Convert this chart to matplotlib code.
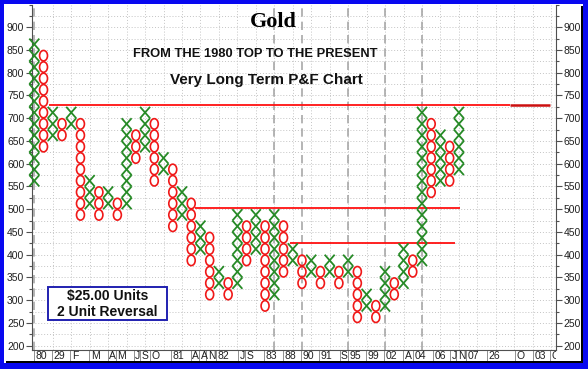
import matplotlib
matplotlib.use("Agg")
import matplotlib.pyplot as plt
from matplotlib.collections import LineCollection
from matplotlib.patches import Ellipse, Rectangle
from matplotlib.transforms import Bbox, TransformedBbox, blended_transform_factory
from matplotlib.ticker import MultipleLocator

# ---------------- data ----------------
BOX = 25
col_types = ['X', 'O'] * 23 + ['X']
col_lows = [550, 625, 650, 650, 675, 475, 500, 475, 500, 475,
            500, 600, 625, 550, 575, 450, 475, 375, 400, 300,
            325, 300, 325, 375, 400, 275, 300, 350, 375, 325,
            350, 325, 350, 325, 350, 250, 275, 250, 275, 300,
            325, 350, 375, 525, 550, 550, 575]
col_highs = [875, 850, 725, 700, 725, 700, 575, 550, 550, 525,
             700, 675, 725, 700, 625, 600, 550, 525, 475, 450,
             375, 350, 500, 475, 500, 475, 500, 475, 425, 400,
             400, 375, 400, 375, 400, 375, 325, 300, 375, 350,
             425, 400, 725, 700, 675, 650, 725]

x_labels = ["80", "29", "F", "M", "A", "M", "J", "S", "O", "81", "A", "A", "N", "82",
            "J", "S", "83", "88", "90", "91", "S", "95", "99", "02", "A", "04", "06",
            "J", "N", "07", "26", "O", "03", "O"]
x_label_pos = [0.81, 2.75, 4.41, 6.58, 8.47, 9.47, 11.2, 12.0, 13.1, 15.6, 17.5, 18.4,
               19.2, 20.5, 22.5, 23.35, 25.72, 27.7, 29.68, 31.68, 33.6, 34.74, 36.73,
               38.72, 40.52, 41.79, 43.95, 45.47, 46.3, 47.56, 49.88, 52.71, 54.84, 56.45]

year_lines = [0, 26, 29, 34, 38, 42]

# red trend lines: (level, start col, end col)
red_levels = [730, 502, 425]
red_starts = [1.6, 17.4, 27.65]
red_ends = [51.5, 46.1, 45.6]
dark_level = 730
dark_start, dark_end = 51.5, 55.9

# ---------------- figure ----------------
W, H = 588, 369
fig = plt.figure(figsize=(W / 100, H / 100), dpi=100)
fig.patch.set_facecolor('white')

def fx(x):
    return x / W

def fy(y):
    return 1 - y / H

ax = fig.add_axes([fx(32), fy(350), 524 / W, 345.5 / H])
ax.set_xlim(-0.25, 56.52)
ax.set_ylim(190.5, 950)
ax.set_facecolor('white')

# grid
grid_c = '#c4c4c4'
for v in range(200, 950, 25):
    ax.axhline(v, color=grid_c, lw=0.7, ls=(0, (1, 2)), zorder=0)
for c in range(2, 57, 2):
    ax.axvline(c, color=grid_c, lw=0.7, ls=(0, (1, 2)), zorder=0)
for c in year_lines:
    ax.axvline(c, color='#a8a8a8', lw=1.2, ls=(0, (5, 3)), zorder=0.5)

# red lines
for lev, s, e in zip(red_levels, red_starts, red_ends):
    ax.plot([s, e], [lev, lev], color='#ff1010', lw=1.3, zorder=1, solid_capstyle='butt')
ax.plot([dark_start, dark_end], [dark_level, dark_level], color='#cc1010', lw=1.8,
        zorder=1, solid_capstyle='butt')

# P&F columns
xw = 0.54
segs = []
for i, (t, lo, hi) in enumerate(zip(col_types, col_lows, col_highs)):
    b = lo
    while b < hi:
        if t == 'X':
            segs.append([(i - xw, b), (i + xw, b + BOX)])
            segs.append([(i - xw, b + BOX), (i + xw, b)])
        else:
            e = Ellipse((i, b + BOX / 2), width=0.86, height=23.0, fill=False,
                        edgecolor='#f01818', lw=1.2, zorder=3, clip_on=False)
            ax.add_patch(e)
        b += BOX
lc = LineCollection(segs, colors='#268a26', linewidths=1.3, zorder=3, clip_on=False)
ax.add_collection(lc)

# axes styling
ax.spines['top'].set_visible(False)
for s in ['left', 'right', 'bottom']:
    ax.spines[s].set_color('#505050')
    ax.spines[s].set_linewidth(0.8)
ax.yaxis.set_major_locator(MultipleLocator(50))
ax.yaxis.set_minor_locator(MultipleLocator(25))
ax.set_yticks(range(200, 901, 50))
ax.tick_params(axis='y', which='both', left=True, right=True, labelleft=True,
               labelright=True, direction='out', colors='#505050', labelcolor='#202020',
               labelsize=7.5, pad=1.5, width=0.8)
ax.tick_params(axis='y', which='major', length=4)
ax.tick_params(axis='y', which='minor', length=2)
ax.set_xticks([])
for lbl in ax.get_yticklabels():
    lbl.set_fontfamily('Liberation Sans')

# x label band
tr = blended_transform_factory(ax.transData, ax.transAxes)
clipbox = TransformedBbox(Bbox([[0, -0.2], [1, 0]]), ax.transAxes)
texts = []
for lab, p in zip(x_labels, x_label_pos):
    t = ax.text(p, -0.018, lab, transform=tr, ha='center', va='center', fontsize=7.5,
                family='Liberation Sans', color='#202020', clip_on=True)
    t.set_clip_box(clipbox)
    texts.append(t)

fig.canvas.draw()
r = fig.canvas.get_renderer()
inv = ax.transData.inverted()
for t in texts:
    bb = t.get_window_extent(r)
    xsep = inv.transform((bb.x0 - 1.5, 0))[0]
    if xsep < 56.5:
        ax.plot([xsep, xsep], [0, -0.036], transform=tr, color='#909090', lw=0.7,
                clip_on=False)

# titles
fig.text(fx(273), fy(22), 'Gold', ha='center', va='center', fontsize=16,
         family='Liberation Serif', fontweight='bold', color='black')
fig.text(fx(255), fy(54), 'FROM THE 1980 TOP TO THE PRESENT', ha='center', va='center',
         fontsize=9.3, family='Liberation Sans', fontweight='bold', color='#111111')
fig.text(fx(266), fy(80), 'Very Long Term P&F Chart', ha='center', va='center',
         fontsize=11, family='Liberation Sans', fontweight='bold', color='#111111')

# unit box
fig.patches.append(Rectangle((fx(48.3), fy(320)), (166.7 - 48.3) / W, (320 - 286.7) / H,
                             transform=fig.transFigure, facecolor='white',
                             edgecolor='#2020b0', lw=1.4, zorder=5))
fig.text(fx(107.5), fy(296), '$25.00 Units', ha='center', va='center', fontsize=10,
         family='Liberation Sans', fontweight='bold', color='#111111', zorder=6)
fig.text(fx(107.5), fy(312.5), '2 Unit Reversal', ha='center', va='center', fontsize=10,
         family='Liberation Sans', fontweight='bold', color='#111111', zorder=6)

# frame: black shadow + blue border
blue = '#0808f0'
def frect(x0, y0, x1, y1, color, z=10):
    fig.patches.append(Rectangle((fx(x0), fy(y1)), (x1 - x0) / W, (y1 - y0) / H,
                                 transform=fig.transFigure, facecolor=color,
                                 edgecolor='none', zorder=z))
frect(6, 360.5, 583, 363, 'black')
frect(580.5, 6, 583, 363, 'black')
frect(0, 0, W, 3.5, blue)
frect(0, 0, 4, H, blue)
frect(583, 0, W, H, blue)
frect(0, 363, W, H, blue)

fig.savefig('out.png', dpi=100, facecolor='white')
